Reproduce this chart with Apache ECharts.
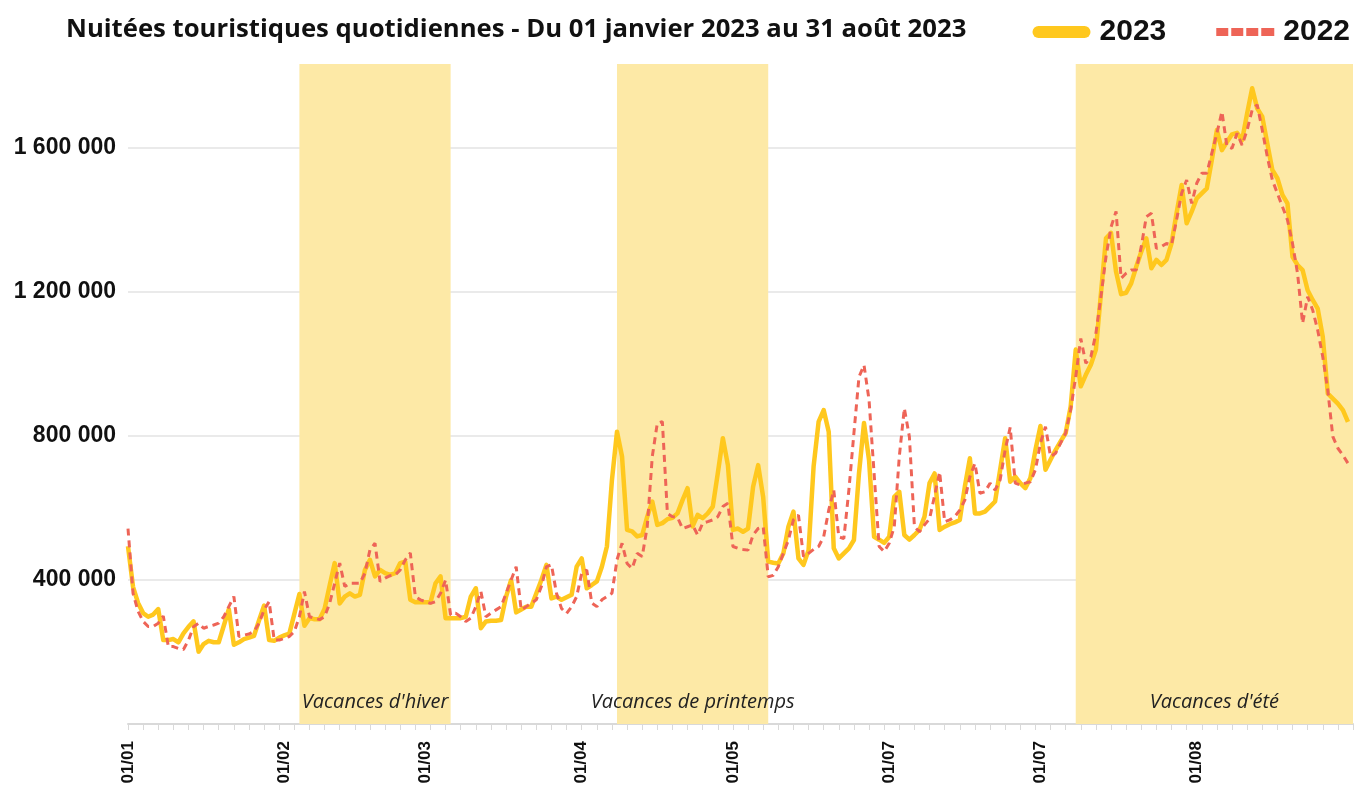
<!DOCTYPE html>
<html>
<head>
<meta charset="utf-8">
<title>Nuitées touristiques quotidiennes</title>
<script src="https://cdn.jsdelivr.net/npm/echarts@6/dist/echarts.min.js"></script>
<style>
  html, body { margin: 0; padding: 0; background: #fff; }
  #main { width: 1359px; height: 791px; }
</style>
</head>
<body>
<div id="main"></div>
<script>
// nuitées quotidiennes, en milliers (01/01 -> 31/08)
var nuitees2023 = [
  494, 381, 336, 308, 298, 304, 319, 233, 233, 236, 227, 252, 270, 285, 201, 222, 231, 227, 227, 273, 319, 220, 227, 236, 240, 245, 288, 329, 233, 231, 240,
  246, 251, 306, 361, 273, 294, 291, 291, 320, 385, 447, 335, 354, 363, 354, 359, 428, 456, 410, 428, 419, 414, 419, 447, 451, 345, 338, 338,
  338, 338, 391, 410, 294, 294, 294, 294, 298, 354, 377, 266, 285, 287, 287, 289, 354, 400, 310, 318, 326, 326, 363, 400, 442, 349, 354, 345, 352, 359, 437,
  460, 377, 386, 396, 437, 493, 678, 812, 743, 539, 535, 521, 525, 576, 618, 553, 558, 569, 573, 585, 622, 655, 549, 581, 572, 585, 604, 697, 794, 719,
  539, 543, 534, 543, 659, 719, 630, 451, 448, 446, 474, 548, 590, 460, 442, 483, 715, 840, 872, 812, 488, 460, 474, 488, 511, 696, 836, 733, 520, 512, 503,
  520, 631, 645, 525, 512, 525, 539, 576, 669, 696, 539, 548, 555, 560, 567, 659, 738, 585, 585, 590, 604, 618, 706, 794, 673, 687, 669, 655, 683,
  761, 828, 706, 734, 761, 785, 808, 882, 1040, 938, 970, 998, 1040, 1196, 1349, 1364, 1256, 1194, 1198, 1224, 1270, 1312, 1349, 1266, 1289, 1275, 1289, 1335, 1419, 1497, 1391,
  1423, 1460, 1474, 1488, 1567, 1650, 1594, 1617, 1638, 1642, 1622, 1696, 1766, 1710, 1687, 1613, 1539, 1516, 1470, 1446, 1298, 1275, 1261, 1205, 1178, 1154, 1076, 918, 904, 890, 872, 839
];
var nuitees2022 = [
  543, 363, 313, 285, 271, 271, 280, 300, 215, 215, 210, 207, 233, 270, 280, 266, 271, 275, 280, 298, 326, 354, 243, 247, 250, 257, 280, 317, 340, 233, 233,
  238, 243, 257, 298, 368, 298, 294, 290, 298, 335, 391, 447, 382, 391, 391, 391, 419, 484, 502, 396, 405, 412, 414, 428, 456, 475, 354, 345,
  340, 335, 340, 363, 400, 303, 308, 298, 285, 294, 326, 368, 298, 308, 317, 326, 363, 400, 437, 317, 326, 336, 345, 382, 437, 442, 363, 321, 307, 326, 354,
  419, 428, 336, 326, 345, 354, 363, 456, 502, 446, 432, 474, 465, 548, 743, 836, 840, 585, 576, 574, 543, 548, 553, 525, 558, 562, 567, 576, 604, 613,
  493, 488, 485, 483, 525, 543, 548, 409, 413, 437, 474, 511, 567, 580, 465, 474, 485, 493, 520, 594, 650, 520, 515, 650, 808, 964, 997, 900, 696, 493, 479,
  502, 548, 743, 877, 798, 548, 534, 553, 570, 634, 700, 562, 567, 576, 594, 622, 687, 724, 641, 645, 669, 650, 678, 761, 824, 669, 664, 669, 673,
  706, 780, 826, 743, 752, 780, 808, 873, 965, 1071, 1002, 1020, 1085, 1187, 1298, 1380, 1424, 1238, 1252, 1261, 1261, 1326, 1409, 1419, 1321, 1326, 1335, 1331, 1400, 1474, 1511,
  1446, 1502, 1530, 1530, 1586, 1641, 1701, 1604, 1599, 1641, 1608, 1650, 1706, 1720, 1650, 1576, 1511, 1474, 1437, 1400, 1335, 1252, 1113, 1187, 1150, 1094, 1020, 927, 798, 766, 747, 724
];

// étiquettes de l'axe des x (premier jour de chaque mois)
var tickIndex = [0, 31, 59, 90, 120, 151, 181, 212];
var tickLabels = ['01/01', '01/02', '01/03', '01/04', '01/05', '01/07', '01/07', '01/08'];

// périodes de vacances scolaires
var vacances = [
  ['Vacances d\'hiver', '04/02', '06/03'],
  ['Vacances de printemps', '08/04', '08/05'],
  ['Vacances d\'été', '08/07', '01/09']
];

// jours du 01/01 au 01/09
var jours = [];
for (var d = new Date(Date.UTC(2023, 0, 1)); d <= new Date(Date.UTC(2023, 8, 1)); d.setUTCDate(d.getUTCDate() + 1)) {
  var dd = ('0' + d.getUTCDate()).slice(-2);
  var mm = ('0' + (d.getUTCMonth() + 1)).slice(-2);
  jours.push(dd + '/' + mm);
}

function milliers(v) {
  return String(v).replace(/\B(?=(\d{3})+(?!\d))/g, ' ');
}

var chart = echarts.init(document.getElementById('main'));

var option = {
  animation: false,
  title: {
    text: 'Nuitées touristiques quotidiennes - Du 01 janvier 2023 au 31 août 2023',
    left: 61,
    top: 12,
    textStyle: { fontFamily: 'Open Sans', fontWeight: 'bold', fontSize: 25.7, color: '#111' }
  },
  legend: {
    right: 4,
    top: 12,
    itemWidth: 58,
    itemHeight: 12,
    itemGap: 50,
    textStyle: { fontFamily: 'Liberation Sans', fontWeight: 'bold', fontSize: 30, color: '#111', padding: [0, 0, 0, 4] },
    data: [
      { name: '2023', icon: 'path://M6,0H52A6,6 0 0 1 52,12H6A6,6 0 0 1 6,0Z' },
      { name: '2022', icon: 'path://M0,2H12V10H0Z M15,2H27V10H15Z M30,2H42V10H30Z M45,2H58V10H45Z' }
    ]
  },
  grid: { left: 128, right: 6, top: 64, bottom: 67 },
  xAxis: {
    type: 'category',
    boundaryGap: false,
    data: jours,
    axisLine: { lineStyle: { color: '#d9d9d9', width: 2 } },
    axisTick: { interval: 2, length: 6, lineStyle: { color: '#d9d9d9' } },
    axisLabel: {
      rotate: 90,
      margin: 17,
      interval: function (index) { return tickIndex.indexOf(index) >= 0; },
      formatter: function (value, index) {
        var k = tickIndex.indexOf(index);
        return k >= 0 ? tickLabels[k] : '';
      },
      fontFamily: 'Liberation Sans',
      fontWeight: 'bold',
      fontSize: 17,
      color: '#111'
    },
    splitLine: { show: false }
  },
  yAxis: {
    type: 'value',
    min: 0,
    max: 1833333,
    interval: 400000,
    axisLine: { show: false },
    axisTick: { show: false },
    axisLabel: {
      margin: 12,
      showMaxLabel: false,
      formatter: function (v) { return (v === 0 || v % 400000 !== 0) ? '' : milliers(v); },
      fontFamily: 'Liberation Sans',
      fontWeight: 'bold',
      fontSize: 23,
      color: '#111'
    },
    splitLine: {
      lineStyle: { color: '#e3e3e3', width: 1.5 },
      showMinLine: false,
      showMaxLine: false
    }
  },
  series: [
    {
      name: 'vacances',
      type: 'line',
      data: [],
      z: 1,
      silent: true,
      markArea: {
        silent: true,
        itemStyle: { color: '#fde9a6' },
        label: {
          position: 'insideBottom',
          distance: 12,
          fontFamily: 'Open Sans',
          fontStyle: 'italic',
          fontSize: 20,
          color: '#222'
        },
        data: vacances.map(function (v) {
          return [{ name: v[0], xAxis: v[1] }, { xAxis: v[2] }];
        })
      }
    },
    {
      name: '2023',
      type: 'line',
      z: 3,
      showSymbol: false,
      color: '#ffc81e',
      lineStyle: { color: '#ffc81e', width: 4.5, join: 'round' },
      data: nuitees2023.map(function (v) { return v * 1000; })
    },
    {
      name: '2022',
      type: 'line',
      z: 4,
      showSymbol: false,
      color: '#ee6457',
      lineStyle: { color: '#ee6457', width: 3, type: [7, 5] },
      data: nuitees2022.map(function (v) { return v * 1000; })
    }
  ]
};

chart.setOption(option);
</script>
</body>
</html>
